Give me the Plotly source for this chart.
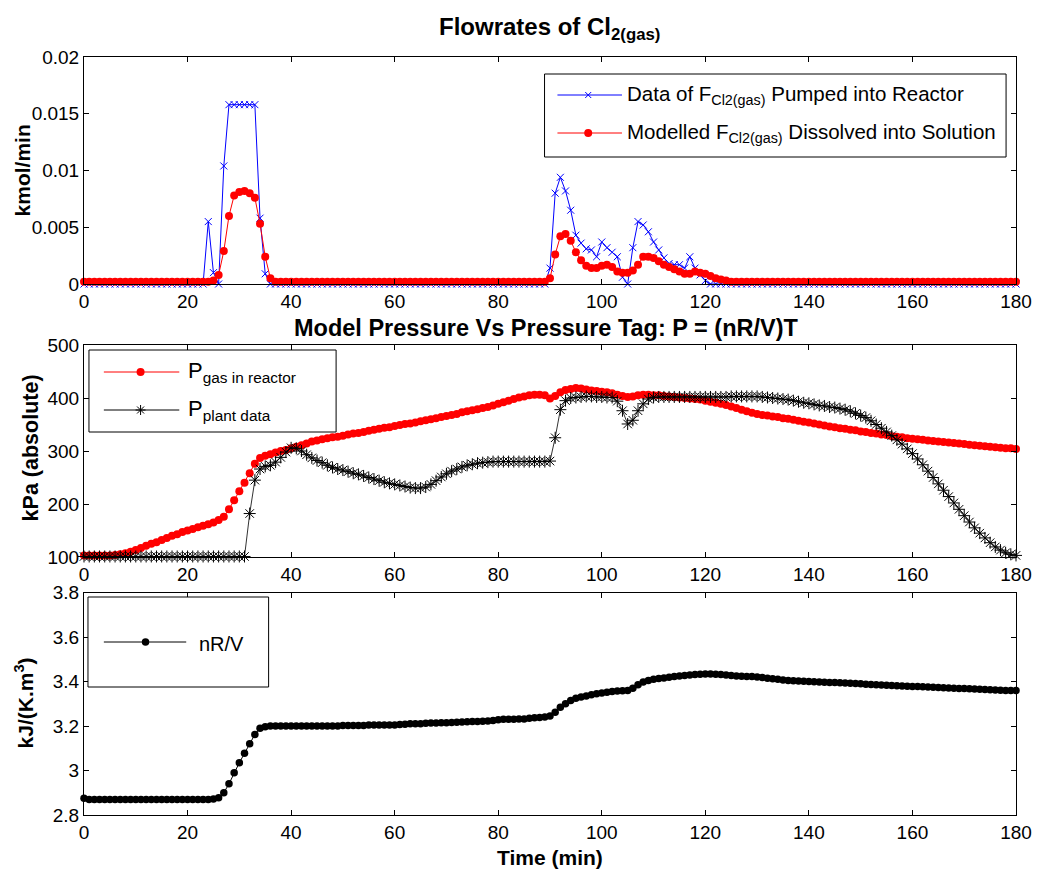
import plotly.graph_objects as go

# ---------------- data ----------------
time_min = list(range(0, 181))

f_pumped = [
    0, 0, 0, 0, 0, 0, 0, 0, 0, 0,
    0, 0, 0, 0, 0, 0, 0, 0, 0, 0,
    0, 0, 0, 0, 0.0055, 0.0010, 0, 0.0104, 0.0158, 0.0158,
    0.0158, 0.0158, 0.0158, 0.0158, 0.0058, 0.0009, 0, 0, 0, 0,
    0, 0, 0, 0, 0, 0, 0, 0, 0, 0,
    0, 0, 0, 0, 0, 0, 0, 0, 0, 0,
    0, 0, 0, 0, 0, 0, 0, 0, 0, 0,
    0, 0, 0, 0, 0, 0, 0, 0, 0, 0,
    0, 0, 0, 0, 0, 0, 0, 0, 0, 0,
    0.0014, 0.0080, 0.0094, 0.0082, 0.0065, 0.0043, 0.0036, 0.0031, 0.0030, 0.0024,
    0.0037, 0.0032, 0.0028, 0.0024, 0.0006, 0.0000, 0.0032, 0.0055, 0.0052, 0.0046,
    0.0037, 0.0030, 0.0023, 0.0018, 0.0017, 0.0017, 0.0014, 0.0024, 0.0014, 0.0008,
    0.0003, 0, 0, 0, 0, 0, 0, 0, 0, 0,
    0, 0, 0, 0, 0, 0, 0, 0, 0, 0,
    0, 0, 0, 0, 0, 0, 0, 0, 0, 0,
    0, 0, 0, 0, 0, 0, 0, 0, 0, 0,
    0, 0, 0, 0, 0, 0, 0, 0, 0, 0,
    0, 0, 0, 0, 0, 0, 0, 0, 0, 0,
    0,
]

f_dissolved = [
    0.0002, 0.0002, 0.0002, 0.0002, 0.0002, 0.0002, 0.0002, 0.0002, 0.0002, 0.0002,
    0.0002, 0.0002, 0.0002, 0.0002, 0.0002, 0.0002, 0.0002, 0.0002, 0.0002, 0.0002,
    0.0002, 0.0002, 0.0002, 0.0002, 0.0002, 0.0003, 0.0008, 0.0029, 0.0060, 0.0078,
    0.0081, 0.0082, 0.0080, 0.0076, 0.0053, 0.0024, 0.0005, 0.0002, 0.0002, 0.0002,
    0.0002, 0.0002, 0.0002, 0.0002, 0.0002, 0.0002, 0.0002, 0.0002, 0.0002, 0.0002,
    0.0002, 0.0002, 0.0002, 0.0002, 0.0002, 0.0002, 0.0002, 0.0002, 0.0002, 0.0002,
    0.0002, 0.0002, 0.0002, 0.0002, 0.0002, 0.0002, 0.0002, 0.0002, 0.0002, 0.0002,
    0.0002, 0.0002, 0.0002, 0.0002, 0.0002, 0.0002, 0.0002, 0.0002, 0.0002, 0.0002,
    0.0002, 0.0002, 0.0002, 0.0002, 0.0002, 0.0002, 0.0002, 0.0002, 0.0002, 0.0002,
    0.0005, 0.0026, 0.0042, 0.0044, 0.0038, 0.0028, 0.0021, 0.0016, 0.0014, 0.0014,
    0.0016, 0.0017, 0.0015, 0.0011, 0.0010, 0.0010, 0.0012, 0.0017, 0.0024, 0.0024,
    0.0023, 0.0020, 0.0017, 0.0015, 0.0013, 0.0011, 0.0009, 0.0009, 0.0011, 0.0010,
    0.0009, 0.0007, 0.0005, 0.0004, 0.0003, 0.0002, 0.0002, 0.0002, 0.0002, 0.0002,
    0.0002, 0.0002, 0.0002, 0.0002, 0.0002, 0.0002, 0.0002, 0.0002, 0.0002, 0.0002,
    0.0002, 0.0002, 0.0002, 0.0002, 0.0002, 0.0002, 0.0002, 0.0002, 0.0002, 0.0002,
    0.0002, 0.0002, 0.0002, 0.0002, 0.0002, 0.0002, 0.0002, 0.0002, 0.0002, 0.0002,
    0.0002, 0.0002, 0.0002, 0.0002, 0.0002, 0.0002, 0.0002, 0.0002, 0.0002, 0.0002,
    0.0002, 0.0002, 0.0002, 0.0002, 0.0002, 0.0002, 0.0002, 0.0002, 0.0002, 0.0002,
    0.0002,
]

p_gas = [
    103, 103, 103, 103, 103, 103, 104, 105, 107, 110,
    113, 117, 121, 125, 128, 132, 136, 140, 143, 147,
    150, 153, 156, 159, 162, 165, 170, 176, 190, 207,
    224, 240, 258, 276, 287, 291, 294, 297, 300, 302,
    305, 308, 311, 314, 318, 320, 322, 324, 326, 327,
    329, 331, 333, 334, 336, 338, 340, 342, 344, 345,
    347, 349, 351, 352, 354, 356, 358, 360, 362, 364,
    366, 368, 370, 373, 375, 377, 379, 381, 383, 386,
    389, 392, 395, 398, 401, 403, 405, 406, 406, 405,
    399, 404, 411, 415, 417, 419, 418, 416, 414, 413,
    412, 411, 409, 406, 404, 402, 403, 405, 406, 406,
    405, 405, 404, 403, 402, 401, 400, 399, 398, 397,
    395, 393, 391, 389, 387, 384, 381, 378, 375, 372,
    370, 368, 367, 365, 364, 362, 361, 359, 357, 355,
    354, 352, 350, 348, 346, 345, 343, 342, 340, 339,
    337, 336, 334, 333, 331, 330, 328, 327, 326, 324,
    323, 322, 321, 320, 319, 318, 317, 316, 315, 314,
    313, 312, 311, 310, 309, 308, 307, 306, 305, 305,
    304,
]

p_plant = [
    101, 101, 101, 101, 101, 101, 101, 101, 101, 101,
    101, 101, 101, 101, 101, 101, 101, 101, 101, 101,
    101, 101, 101, 101, 101, 101, 101, 101, 101, 101,
    101, 101, 182, 245, 266, 271, 273, 279, 288, 298,
    306, 305, 300, 293, 287, 282, 278, 273, 269, 266,
    264, 261, 258, 256, 253, 250, 247, 244, 241, 239,
    237, 235, 233, 231, 230, 230, 232, 237, 244, 251,
    257, 262, 266, 270, 273, 275, 277, 278, 279, 280,
    280, 280, 280, 280, 280, 280, 280, 280, 280, 280,
    281, 325, 378, 395, 400, 401, 402, 403, 403, 402,
    402, 401, 401, 394, 376, 351, 358, 376, 389, 398,
    401, 402, 402, 402, 402, 402, 402, 402, 402, 402,
    402, 402, 402, 402, 402, 403, 403, 403, 403, 403,
    403, 402, 401, 400, 399, 398, 397, 395, 393, 391,
    390, 388, 386, 385, 383, 382, 380, 378, 375, 371,
    367, 363, 357, 350, 343, 336, 329, 321, 313, 304,
    295, 285, 274, 262, 250, 238, 226, 214, 202, 190,
    178, 166, 155, 145, 136, 127, 119, 113, 108, 105,
    103,
]

nrv = [
    2.875, 2.87, 2.87, 2.87, 2.87, 2.87, 2.87, 2.87, 2.87, 2.87,
    2.87, 2.87, 2.87, 2.87, 2.87, 2.87, 2.87, 2.87, 2.87, 2.87,
    2.87, 2.87, 2.87, 2.87, 2.87, 2.872, 2.878, 2.90, 2.94, 2.99,
    3.035, 3.077, 3.12, 3.162, 3.19, 3.197, 3.2, 3.2, 3.2, 3.2,
    3.2, 3.2, 3.2, 3.2, 3.2, 3.2, 3.2, 3.2, 3.2, 3.2,
    3.202, 3.202, 3.202, 3.202, 3.202, 3.205, 3.205, 3.205, 3.205, 3.205,
    3.205, 3.207, 3.208, 3.21, 3.21, 3.21, 3.212, 3.213, 3.214, 3.215,
    3.215, 3.216, 3.217, 3.218, 3.219, 3.22, 3.22, 3.221, 3.222, 3.225,
    3.228, 3.23, 3.23, 3.23, 3.231, 3.232, 3.235, 3.237, 3.238, 3.24,
    3.245, 3.262, 3.284, 3.30, 3.315, 3.325, 3.33, 3.335, 3.34, 3.345,
    3.348, 3.352, 3.355, 3.357, 3.358, 3.36, 3.37, 3.385, 3.398, 3.405,
    3.41, 3.413, 3.416, 3.419, 3.422, 3.425, 3.427, 3.429, 3.431, 3.433,
    3.434, 3.434, 3.433, 3.431, 3.429, 3.427, 3.425, 3.424, 3.423, 3.422,
    3.42, 3.418, 3.415, 3.412, 3.41, 3.407, 3.405, 3.403, 3.402, 3.401,
    3.4, 3.399, 3.398, 3.397, 3.396, 3.395, 3.394, 3.393, 3.392, 3.391,
    3.39, 3.388, 3.386, 3.385, 3.384, 3.383, 3.382, 3.381, 3.38, 3.379,
    3.378, 3.377, 3.376, 3.375, 3.374, 3.373, 3.372, 3.371, 3.37, 3.369,
    3.368, 3.367, 3.366, 3.365, 3.364, 3.363, 3.362, 3.361, 3.36, 3.36,
    3.36,
]

x_ticks = [0, 20, 40, 60, 80, 100, 120, 140, 160, 180]
y1_ticks = [0, 0.005, 0.01, 0.015, 0.02]
y2_ticks = [100, 200, 300, 400, 500]
y3_ticks = [2.8, 3.0, 3.2, 3.4, 3.6, 3.8]
y3_labels = ["2.8", "3", "3.2", "3.4", "3.6", "3.8"]

# ---------------- layout geometry ----------------
FONT = "Liberation Sans, Arial, sans-serif"
W, H = 1044, 869
ML, MR, MT, MB = 84, 21, 57, 54
PW = W - ML - MR
PH = H - MT - MB


def fx(px):
    return (px - ML) / PW


def fy(py):
    return (H - MB - py) / PH


TICK_FONT = dict(family=FONT, size=19, color="black")

fig = go.Figure()

# panel 1
fig.add_trace(go.Scatter(
    x=time_min, y=f_pumped, mode="lines+markers", xaxis="x", yaxis="y",
    line=dict(color="#0000ff", width=1),
    marker=dict(symbol="x-thin-open", size=7, color="#0000ff",
                line=dict(color="#0000ff", width=1)),
    cliponaxis=False, showlegend=False))
fig.add_trace(go.Scatter(
    x=time_min, y=f_dissolved, mode="lines+markers", xaxis="x", yaxis="y",
    line=dict(color="#ff0000", width=1),
    marker=dict(symbol="circle", size=8, color="#ff0000"),
    cliponaxis=False, showlegend=False))

# panel 2
fig.add_trace(go.Scatter(
    x=time_min, y=p_gas, mode="lines+markers", xaxis="x2", yaxis="y2",
    line=dict(color="#ff0000", width=1),
    marker=dict(symbol="circle", size=8, color="#ff0000"),
    cliponaxis=False, showlegend=False))
fig.add_trace(go.Scatter(
    x=time_min, y=p_plant, mode="lines+markers", xaxis="x2", yaxis="y2",
    line=dict(color="#333333", width=1),
    marker=dict(symbol="asterisk-open", size=10, color="#000000",
                line=dict(color="#000000", width=1)),
    cliponaxis=False, showlegend=False))

# panel 3
fig.add_trace(go.Scatter(
    x=time_min, y=nrv, mode="lines+markers", xaxis="x3", yaxis="y3",
    line=dict(color="#000000", width=1),
    marker=dict(symbol="circle", size=7.5, color="#000000"),
    cliponaxis=False, showlegend=False))


def xax(anchor):
    return dict(domain=[0, 1], anchor=anchor, range=[0, 180], tickvals=x_ticks,
                ticks="inside", ticklen=5, tickcolor="black", showline=True,
                linecolor="black", linewidth=1, mirror="ticks", showgrid=False,
                zeroline=False, tickfont=TICK_FONT)


def yax(anchor, dom, rng, tv, tt=None):
    d = dict(domain=dom, anchor=anchor, range=rng, tickvals=tv,
             ticks="inside", ticklen=5, tickcolor="black", showline=True,
             linecolor="black", linewidth=1, mirror="ticks", showgrid=False,
             zeroline=False, tickfont=TICK_FONT)
    if tt is not None:
        d["ticktext"] = tt
    return d


shapes = []
annotations = []


def rect(x0, y0, x1, y1):
    shapes.append(dict(type="rect", xref="paper", yref="paper",
                       x0=fx(x0), x1=fx(x1), y0=fy(y1), y1=fy(y0),
                       line=dict(color="black", width=1), fillcolor="white",
                       layer="above"))


def hline(x0, x1, y, color):
    shapes.append(dict(type="line", xref="paper", yref="paper",
                       x0=fx(x0), x1=fx(x1), y0=fy(y), y1=fy(y),
                       line=dict(color=color, width=1), layer="above"))


def pix_line(x, y, a, b, c, d, color):
    shapes.append(dict(type="line", xref="paper", yref="paper",
                       xsizemode="pixel", ysizemode="pixel",
                       xanchor=fx(x), yanchor=fy(y), x0=a, y0=b, x1=c, y1=d,
                       line=dict(color=color, width=1), layer="above"))


def dot(x, y, color, r):
    shapes.append(dict(type="circle", xref="paper", yref="paper",
                       xsizemode="pixel", ysizemode="pixel",
                       xanchor=fx(x), yanchor=fy(y), x0=-r, x1=r, y0=-r, y1=r,
                       fillcolor=color, line=dict(color=color, width=0),
                       layer="above"))


def cross(x, y, color, r):
    pix_line(x, y, -r, -r, r, r, color)
    pix_line(x, y, -r, r, r, -r, color)


def star(x, y, color, r):
    pix_line(x, y, -r, 0, r, 0, color)
    pix_line(x, y, 0, -r, 0, r, color)
    k = r * 0.7
    pix_line(x, y, -k, -k, k, k, color)
    pix_line(x, y, -k, k, k, -k, color)


def text(x, y, s, size=20, anchor="left", bold=False, angle=0):
    annotations.append(dict(xref="paper", yref="paper", x=fx(x), y=fy(y),
                            text=("<b>%s</b>" % s) if bold else s,
                            showarrow=False, xanchor=anchor, yanchor="middle",
                            textangle=angle,
                            font=dict(family=FONT, size=size, color="black")))


# legend 1 (top panel)
rect(548, 74, 1013, 157)
hline(561, 626, 95, "#0000ff")
cross(592, 95, "#0000ff", 3)
text(629, 95, "Data of F<sub>Cl2(gas)</sub> Pumped into Reactor", size=20.5)
hline(561, 626, 133, "#ff0000")
dot(592, 133, "#ff0000", 4)
text(629, 133, "Modelled F<sub>Cl2(gas)</sub> Dissolved into Solution", size=20.5)

# legend 2 (middle panel)
rect(89, 350, 338, 432)
hline(104, 180, 372, "#ff0000")
dot(141, 372, "#ff0000", 4)
text(187, 372, "P<sub>gas in reactor</sub>", size=22)
hline(104, 180, 410, "#000000")
star(141, 410, "#000000", 5)
text(187, 410, "P<sub>plant data</sub>", size=22)

# legend 3 (bottom panel)
rect(88, 597, 270, 687)
hline(104, 187, 642, "#000000")
dot(146, 642, "#000000", 3.75)
text(198, 644, "nR/V")

# titles
text(553, 29, "Flowrates of Cl<sub>2(gas)</sub>", size=24, anchor="center", bold=True)
text(550, 328, "Model Pressure Vs Pressure Tag: P = (nR/V)T", size=23.5, anchor="center", bold=True)
text(553, 857, "Time (min)", size=21, anchor="center", bold=True)
text(22, 170, "kmol/min", size=21, anchor="center", bold=True, angle=-90)
text(31, 448, "kPa (absolute)", size=21.5, anchor="center", bold=True, angle=-90)
text(24, 703, "kJ/(K.m<sup>3</sup>)", size=21, anchor="center", bold=True, angle=-90)

fig.update_layout(
    width=W, height=H,
    margin=dict(l=ML, r=MR, t=MT, b=MB, pad=0),
    paper_bgcolor="white", plot_bgcolor="white",
    font=dict(family=FONT, size=19, color="black"),
    showlegend=False,
    xaxis=xax("y"),
    xaxis2=xax("y2"),
    xaxis3=xax("y3"),
    yaxis=yax("x", [fy(284), fy(57)], [0, 0.02], y1_ticks),
    yaxis2=yax("x2", [fy(557), fy(345)], [100, 500], y2_ticks),
    yaxis3=yax("x3", [0, fy(592.5)], [2.8, 3.8], y3_ticks, y3_labels),
    shapes=shapes,
    annotations=annotations,
)

fig.write_html("out.html")
